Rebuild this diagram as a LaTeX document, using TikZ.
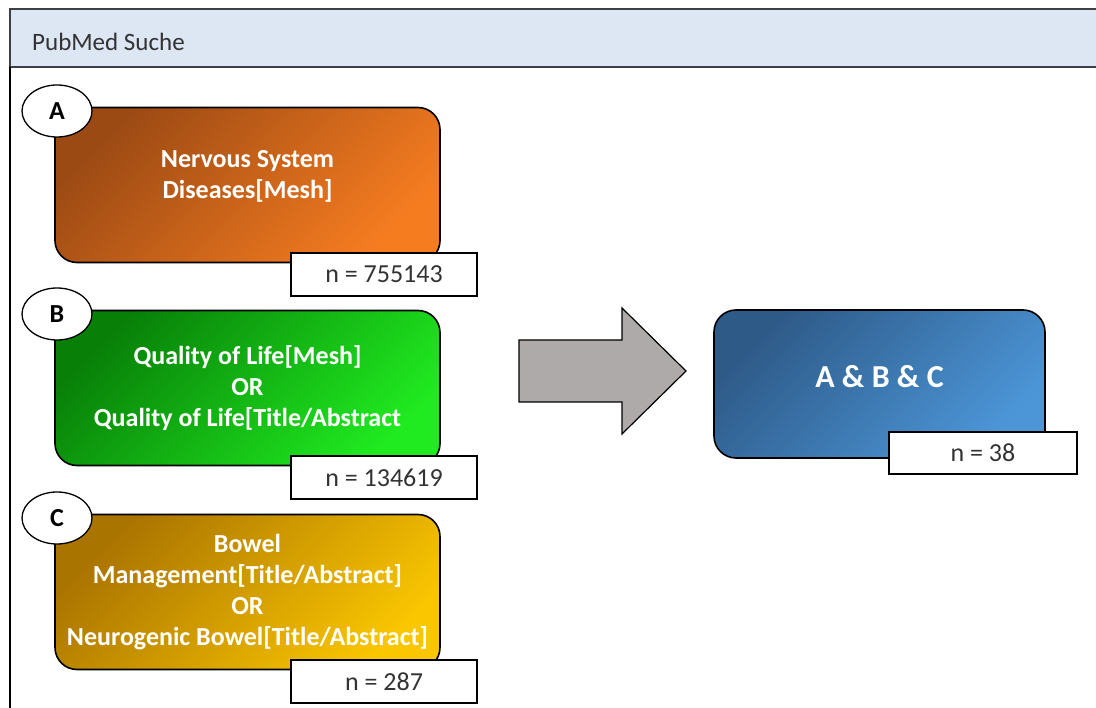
\documentclass[tikz,border=0pt]{standalone}
\usepackage{fontspec}
\setmainfont{Carlito}
\usepackage{xcolor}
\usepackage{tikz}
\usetikzlibrary{shapes.geometric}
\definecolor{headBlue}{RGB}{220, 231, 243}
\definecolor{frameGray}{RGB}{60, 64, 66}
\definecolor{textGray}{RGB}{51, 51, 51}
\definecolor{arrowGray}{RGB}{174, 170, 169}
\definecolor{orangeDark}{RGB}{156, 74, 20}
\definecolor{orangeLight}{RGB}{246, 124, 32}
\definecolor{greenDark}{RGB}{8, 128, 8}
\definecolor{greenLight}{RGB}{32, 234, 32}
\definecolor{goldDark}{RGB}{170, 116, 0}
\definecolor{goldLight}{RGB}{250, 198, 0}
\definecolor{blueDark}{RGB}{46, 90, 136}
\definecolor{blueLight}{RGB}{76, 150, 216}

\tikzset{
    query/.style n args={2}{draw=black, line width=1.6pt, rounded corners=22pt,
        minimum width=385pt, minimum height=155pt, align=center, text=white,
        font=\fontsize{26}{31}\selectfont\bfseries,
        top color=#1, bottom color=#2, shading angle=45},
    letter/.style={ellipse, draw=black, line width=1.3pt, fill=white,
        minimum width=70pt, minimum height=52pt, inner sep=0pt,
        font=\fontsize{26}{30}\selectfont\bfseries},
    count/.style={rectangle, draw=black, line width=1.3pt, fill=white,
        minimum width=186pt, minimum height=43pt, inner sep=0pt,
        text=textGray, font=\fontsize{26}{30}\selectfont}
}

\begin{document}
\begin{tikzpicture}[x=1pt, y=-1pt]
\useasboundingbox (0,0) rectangle (1096,708);
% frame with header band
\draw[frameGray, line width=1.6pt, fill=headBlue] (10,9) rectangle (1110,67);
\draw[black, line width=1.6pt] (10,67) -- (10,720);
\node[anchor=west, text=textGray, font=\fontsize{25}{30}\selectfont, inner sep=0pt] (title) at (32,42) {PubMed Suche};

% search terms A, B, C
\node[query={orangeDark}{orangeLight}, text depth=22pt] (boxA) at (247.5,185) {Nervous System\\Diseases[Mesh]};
\node[query={greenDark}{greenLight}] (boxB) at (247.5,388) {Quality of Life[Mesh]\\OR\\Quality of Life[Title/Abstract};
\node[query={goldDark}{goldLight}] (boxC) at (247.5,592) {Bowel\\Management[Title/Abstract]\\OR\\Neurogenic Bowel[Title/Abstract]};

% letters and counts
\foreach \lab/\ytag/\ynum/\num in {A/111/274.5/755143, B/314/477.5/134619, C/518/681.5/287} {
    \node[letter] (tag\lab) at (57,\ytag) {\lab};
    \node[count] (n\lab) at (384,\ynum) {n = \num};
}

% big arrow
\draw[black, line width=1.2pt, fill=arrowGray] (519,340) -- (622,340) -- (622,308) -- (686,371)
    -- (622,434) -- (622,402) -- (519,402) -- cycle;

% result
\node[query={blueDark}{blueLight}, minimum width=331pt, minimum height=148pt,
    font=\fontsize{32}{38}\selectfont\bfseries, text depth=16pt] (boxABC) at (879.5,384) {A \& B \& C};
\node[count, minimum width=188pt, minimum height=42pt] (nABC) at (983,453) {n = 38};
\end{tikzpicture}
\end{document}
